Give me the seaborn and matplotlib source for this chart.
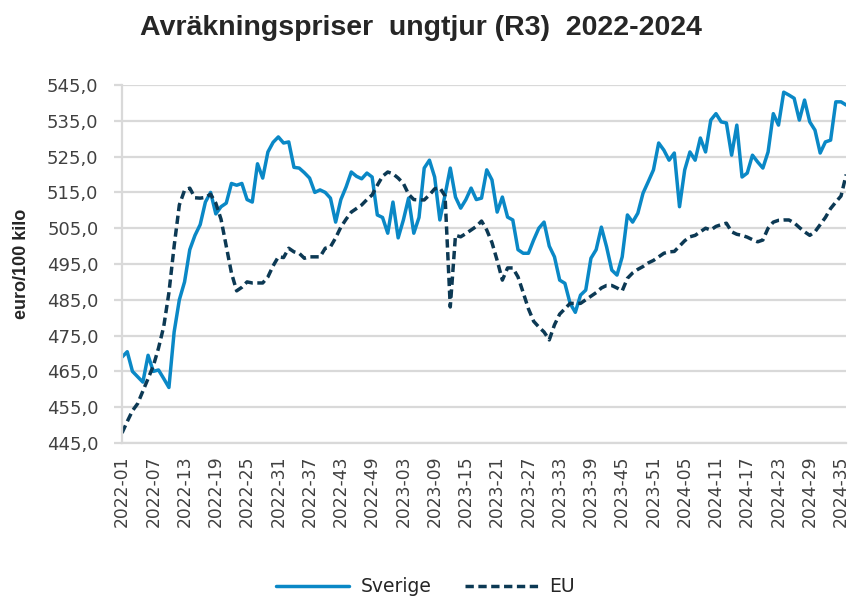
import pandas as pd
import matplotlib.pyplot as plt
import seaborn as sns

# Weekly settlement prices, young bulls (R3), euro/100 kg
week_labels = ([f"2022-{w:02d}" for w in range(1, 53)]
               + [f"2023-{w:02d}" for w in range(1, 53)]
               + [f"2024-{w:02d}" for w in range(1, 37)])

sverige = [
    469, 470.5, 465, 463.5, 462, 469.5, 465, 465.4, 463, 460.5,
    476, 485, 490, 499, 503, 506, 512.3, 515, 509, 511,
    512, 517.5, 517, 517.5, 513, 512.3, 523, 519, 526.3, 529,
    530.5, 528.8, 529.1, 522, 521.8, 520.5, 519, 515, 515.7, 515,
    513.4, 506.7, 513, 516.5, 520.7, 519.5, 518.8, 520.4, 519.3, 508.7,
    508, 503.6, 512.3, 502.3, 507.3, 513.4, 503.6, 508, 521.8, 524,
    519.3, 507.3, 514.3, 521.8, 513.7, 510.6, 513, 516.2, 513, 513.4,
    521.3, 518.5, 509.5, 513.7, 508.1, 507.3, 499, 498, 498, 501.7,
    505, 506.7, 500, 497, 490.5, 489.6, 484, 481.5, 486.3, 487.7,
    496.6, 499, 505.3, 499.8, 493.3, 491.9, 497, 508.7, 506.7, 509.2,
    514.8, 518, 521.3, 528.8, 526.8, 524, 526, 511, 521.3, 526.3,
    524, 530.2, 526.3, 535.2, 537, 534.7, 534.4, 525.4, 533.8, 519.3,
    520.4, 525.4, 523.5, 521.8, 526.3, 537, 533.8, 543, 542.2, 541.3,
    535.2, 540.8, 534.7, 532.4, 526, 529.1, 529.6, 540.3, 540.3, 539.4,
]

eu = [
    447.8, 451, 454, 456, 459.5, 463, 466.5, 471.5, 477.5, 487,
    500, 511.5, 515.6, 516.2, 513.5, 513.4, 513.6, 514.5, 512, 507.5,
    500, 492.5, 487.5, 488.5, 490, 489.7, 489.7, 489.7, 491.4, 494.5,
    497, 496.8, 499.4, 498.4, 498, 496.6, 497, 497, 497, 499.4,
    499.8, 502.3, 505.3, 507.5, 509.5, 510.5, 511.5, 513, 514.3, 517,
    519.5, 520.7, 520.2, 519, 517.5, 514.5, 513, 512.9, 512.9, 514.3,
    516, 516.3, 514, 483, 503, 502.6, 503.5, 504.5, 505.5, 507,
    504.5, 501, 496, 490.5, 493.9, 493.9, 491.4, 487, 482.5, 479,
    477.4, 476, 473.8, 478, 481, 482.5, 484, 484, 484, 485,
    486, 487, 488.3, 489, 489, 488.3, 487.5, 491, 492.5, 493.5,
    494.3, 495.3, 496, 497, 498, 498.4, 498.5, 500, 501.5, 502.6,
    503, 504, 505, 504.5, 505.5, 506, 506.4, 504, 503.3, 503,
    502.5, 501.8, 501.2, 501.7, 505, 506.7, 507.2, 507.3, 507.3, 506.5,
    505.2, 504, 503, 504, 506, 508, 510.5, 512.3, 514, 520,
]

y_ticks = [445, 455, 465, 475, 485, 495, 505, 515, 525, 535, 545]

n = len(week_labels)
df = pd.DataFrame({
    "idx": list(range(n)) * 2,
    "pris": sverige + eu,
    "serie": ["Sverige"] * n + ["EU"] * n,
})

sns.set_style("white")
plt.rcParams["font.family"] = ["DejaVu Sans"]

fig = plt.figure(figsize=(8.51, 6.0), dpi=100)
ax = fig.add_axes([0.1434, 0.2617, 0.851, 0.5966])

sns.lineplot(data=df, x="idx", y="pris", hue="serie", style="serie",
             hue_order=["Sverige", "EU"], style_order=["Sverige", "EU"],
             palette={"Sverige": "#0A88C6", "EU": "#0C3954"},
             dashes={"Sverige": "", "EU": (2.4, 1.3)},
             linewidth=2.5, ax=ax, legend=True)

ax.set_xlim(0, n - 1)
ax.set_ylim(445, 545)
ax.set_yticks(y_ticks)
ax.set_yticklabels([f"{v:.1f}".replace(".", ",") for v in y_ticks])
ax.set_xticks(list(range(0, n, 6)))
ax.set_xticklabels(week_labels[::6], rotation=90)

ax.grid(axis="y", color="#D9D9D9", linewidth=1.6)
ax.set_axisbelow(True)
for s in ["top", "right"]:
    ax.spines[s].set_visible(False)
for s in ["left", "bottom"]:
    ax.spines[s].set_color("#D9D9D9")
    ax.spines[s].set_linewidth(1.6)

ax.tick_params(axis="y", length=6, width=1.6, color="#D9D9D9", pad=11,
               labelsize=13, labelcolor="#404040", left=True)
ax.tick_params(axis="x", length=0, pad=9, labelsize=12.3, labelcolor="#404040")

ax.set_xlabel("")
ax.set_ylabel("euro/100 kilo", family="Liberation Sans", fontweight="bold",
              fontsize=13, labelpad=12)

fig.text(0.495, 0.953, "Avräkningspriser  ungtjur (R3)  2022-2024",
         family="Liberation Sans", fontweight="bold", fontsize=20.5,
         ha="center", va="center")

handles, labels = ax.get_legend_handles_labels()
ax.legend(handles, labels, loc="center", bbox_to_anchor=(0.5, 0.022),
          bbox_transform=fig.transFigure, ncol=2, frameon=False,
          fontsize=13.5, handlelength=3.9, handletextpad=0.6,
          columnspacing=1.8)

fig.savefig("out.png", dpi=100)
